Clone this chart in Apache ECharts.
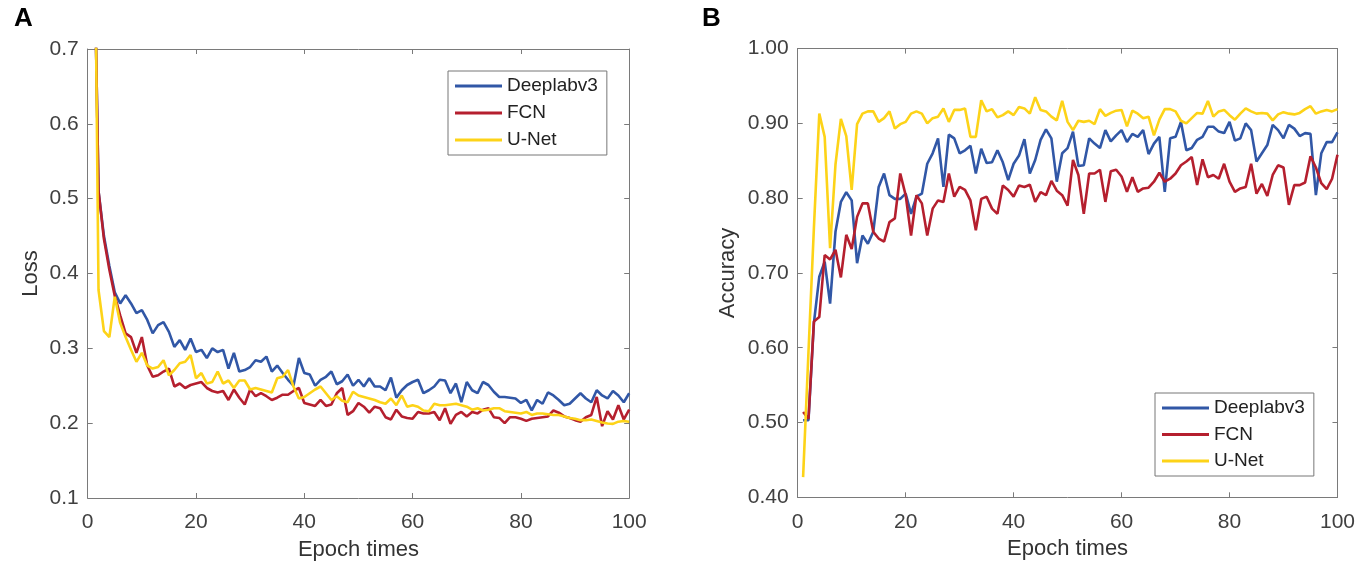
<!DOCTYPE html>
<html>
<head>
<meta charset="utf-8">
<script src="https://cdn.jsdelivr.net/npm/echarts@6/dist/echarts.min.js"></script>
<style>
	html, body { margin: 0; padding: 0; background: #fff; }
	#chart { width: 1358px; height: 566px; }
</style>
</head>
<body>
<div id="chart"></div>
<script>
// epochs 1..100
var epochs = [];
for (var e = 1; e <= 100; e++) epochs.push(e);

var seriesNames = ['Deeplabv3', 'FCN', 'U-Net'];
var seriesColors = ['#3157a6', '#b51f2e', '#fdd318'];

// panel A: loss
var lossDeeplab = [
	0.93, 0.51, 0.45, 0.41, 0.375, 0.36, 0.371, 0.36, 0.347, 0.351,
	0.338, 0.32, 0.331, 0.335, 0.322, 0.302, 0.311, 0.298, 0.313, 0.295,
	0.298, 0.287, 0.30, 0.295, 0.298, 0.273, 0.294, 0.269, 0.271, 0.275,
	0.284, 0.282, 0.289, 0.269, 0.277, 0.267, 0.258, 0.25, 0.287, 0.267,
	0.265, 0.25, 0.258, 0.262, 0.269, 0.252, 0.256, 0.265, 0.25, 0.258,
	0.249, 0.260, 0.249, 0.249, 0.244, 0.261, 0.234, 0.244, 0.251, 0.255,
	0.258, 0.240, 0.244, 0.249, 0.258, 0.257, 0.240, 0.253, 0.228, 0.255,
	0.244, 0.240, 0.255, 0.251, 0.242, 0.235, 0.235, 0.234, 0.233, 0.227,
	0.231, 0.217, 0.231, 0.226, 0.241, 0.237, 0.231, 0.224, 0.226, 0.233,
	0.240, 0.233, 0.228, 0.244, 0.237, 0.233, 0.243, 0.237, 0.228, 0.240
];
var lossFCN = [
	0.93, 0.51, 0.446, 0.405, 0.37, 0.344, 0.32, 0.315, 0.294, 0.315,
	0.277, 0.262, 0.264, 0.269, 0.273, 0.249, 0.253, 0.247, 0.251, 0.253,
	0.255, 0.247, 0.243, 0.241, 0.243, 0.231, 0.245, 0.234, 0.225, 0.245,
	0.236, 0.24, 0.236, 0.231, 0.234, 0.238, 0.238, 0.243, 0.247, 0.227,
	0.225, 0.223, 0.231, 0.223, 0.225, 0.24, 0.247, 0.211, 0.216, 0.227,
	0.222, 0.214, 0.222, 0.220, 0.208, 0.205, 0.218, 0.209, 0.207, 0.206,
	0.215, 0.213, 0.213, 0.215, 0.204, 0.220, 0.199, 0.211, 0.215, 0.209,
	0.215, 0.213, 0.218, 0.220, 0.208, 0.207, 0.200, 0.208, 0.208, 0.206,
	0.203, 0.206, 0.207, 0.208, 0.209, 0.217, 0.214, 0.209, 0.207, 0.204,
	0.202, 0.208, 0.211, 0.235, 0.196, 0.216, 0.205, 0.224, 0.205, 0.218
];
var lossUNet = [
	1.1, 0.378, 0.323, 0.315, 0.369, 0.334, 0.315, 0.298, 0.282, 0.294,
	0.277, 0.273, 0.275, 0.284, 0.264, 0.271, 0.28, 0.282, 0.291, 0.26,
	0.267, 0.253, 0.255, 0.269, 0.253, 0.257, 0.247, 0.257, 0.257, 0.245,
	0.247, 0.245, 0.243, 0.241, 0.26, 0.262, 0.271, 0.249, 0.233, 0.235,
	0.24, 0.245, 0.249, 0.24, 0.231, 0.236, 0.23, 0.228, 0.242, 0.237,
	0.235, 0.233, 0.231, 0.228, 0.226, 0.233, 0.224, 0.237, 0.222, 0.224,
	0.222, 0.217, 0.216, 0.226, 0.224, 0.224, 0.225, 0.226, 0.224, 0.222,
	0.218, 0.220, 0.217, 0.218, 0.220, 0.220, 0.216, 0.215, 0.214, 0.213,
	0.215, 0.211, 0.213, 0.213, 0.212, 0.211, 0.211, 0.209, 0.207, 0.206,
	0.204, 0.204, 0.205, 0.203, 0.201, 0.1995, 0.199, 0.202, 0.203, 0.202
];

// panel B: accuracy
var accDeeplab = [
	0.503, 0.503, 0.633, 0.695, 0.715, 0.659, 0.755, 0.795, 0.808, 0.797,
	0.713, 0.75, 0.739, 0.755, 0.815, 0.833, 0.804, 0.799, 0.799, 0.806,
	0.779, 0.802, 0.806, 0.846, 0.86, 0.88, 0.815, 0.885, 0.88, 0.86,
	0.864, 0.87, 0.833, 0.866, 0.847, 0.848, 0.864, 0.848, 0.824, 0.846,
	0.857, 0.879, 0.833, 0.851, 0.878, 0.892, 0.88, 0.822, 0.86, 0.867,
	0.889, 0.843, 0.844, 0.880, 0.873, 0.867, 0.891, 0.876, 0.884, 0.891,
	0.875, 0.886, 0.882, 0.891, 0.859, 0.873, 0.882, 0.8085, 0.880, 0.882,
	0.902, 0.864, 0.867, 0.878, 0.882, 0.8955, 0.8955, 0.889, 0.887, 0.902,
	0.877, 0.880, 0.900, 0.891, 0.849, 0.860, 0.871, 0.898, 0.891, 0.880,
	0.898, 0.893, 0.883, 0.887, 0.886, 0.804, 0.860, 0.875, 0.875, 0.888
];
var accFCN = [
	0.514, 0.505, 0.635, 0.641, 0.724, 0.718, 0.731, 0.694, 0.751, 0.732,
	0.775, 0.793, 0.793, 0.755, 0.746, 0.742, 0.768, 0.773, 0.833, 0.804,
	0.75, 0.804, 0.793, 0.75, 0.786, 0.797, 0.795, 0.833, 0.802, 0.815,
	0.811, 0.797, 0.757, 0.799, 0.802, 0.786, 0.779, 0.817, 0.811, 0.802,
	0.817, 0.815, 0.818, 0.795, 0.808, 0.804, 0.823, 0.81, 0.804, 0.79,
	0.851, 0.831, 0.779, 0.833, 0.833, 0.838, 0.795, 0.836, 0.838, 0.829,
	0.8085, 0.828, 0.8085, 0.813, 0.814, 0.822, 0.834, 0.822, 0.826, 0.833,
	0.844, 0.849, 0.855, 0.8175, 0.852, 0.828, 0.831, 0.826, 0.846, 0.822,
	0.8085, 0.813, 0.815, 0.846, 0.806, 0.819, 0.803, 0.831, 0.844, 0.841,
	0.791, 0.8175, 0.8175, 0.821, 0.856, 0.841, 0.820, 0.812, 0.826, 0.858
];
var accUNet = [
	0.427, 0.595, 0.76, 0.913, 0.882, 0.733, 0.845, 0.906, 0.883, 0.811,
	0.899, 0.913, 0.916, 0.916, 0.902, 0.907, 0.916, 0.893, 0.899, 0.902,
	0.913, 0.916, 0.913, 0.9, 0.907, 0.909, 0.92, 0.902, 0.918, 0.918,
	0.92, 0.882, 0.882, 0.931, 0.916, 0.919, 0.908, 0.911, 0.916, 0.911,
	0.922, 0.92, 0.913, 0.935, 0.918, 0.916, 0.909, 0.904, 0.93, 0.902,
	0.891, 0.9035, 0.902, 0.9035, 0.899, 0.919, 0.91, 0.914, 0.917, 0.918,
	0.896, 0.917, 0.913, 0.907, 0.909, 0.884, 0.905, 0.919, 0.919, 0.916,
	0.9035, 0.900, 0.907, 0.914, 0.913, 0.930, 0.909, 0.916, 0.918, 0.911,
	0.905, 0.913, 0.920, 0.916, 0.913, 0.914, 0.913, 0.904, 0.912, 0.915,
	0.913, 0.912, 0.914, 0.919, 0.923, 0.913, 0.916, 0.918, 0.916, 0.919
];

var FONT = '"Liberation Sans", Arial, Helvetica, sans-serif';
var AXIS_COLOR = '#7a7a7a';

function pairs(values) {
	var out = [];
	for (var i = 0; i < values.length; i++) out.push([epochs[i], values[i]]);
	return out;
}

function xAxes(gridIndex) {
	var base = {
		gridIndex: gridIndex,
		type: 'value',
		min: 0,
		max: 100,
		interval: 20,
		splitLine: { show: false },
		axisLine: { show: true, onZero: false, lineStyle: { color: AXIS_COLOR, width: 1 } },
		axisTick: { show: true, inside: true, length: 5, lineStyle: { color: AXIS_COLOR } }
	};
	var bottom = Object.assign({}, base, {
		position: 'bottom',
		name: 'Epoch times',
		nameLocation: 'middle',
		nameGap: 41,
		nameTextStyle: { fontSize: 22, color: '#333', fontFamily: FONT },
		axisLabel: { fontSize: 21, color: '#404040', margin: 14, fontFamily: FONT }
	});
	var top = Object.assign({}, base, {
		position: 'top',
		axisLabel: { show: false }
	});
	return [bottom, top];
}

function yAxes(gridIndex, min, max, name, nameGap, digits) {
	var base = {
		gridIndex: gridIndex,
		type: 'value',
		min: min,
		max: max,
		interval: 0.1,
		splitLine: { show: false },
		axisLine: { show: true, onZero: false, lineStyle: { color: AXIS_COLOR, width: 1 } },
		axisTick: { show: true, inside: true, length: 5, lineStyle: { color: AXIS_COLOR } }
	};
	var left = Object.assign({}, base, {
		position: 'left',
		name: name,
		nameLocation: 'middle',
		nameGap: nameGap,
		nameTextStyle: { fontSize: 22, color: '#333', fontFamily: FONT },
		axisLabel: {
			fontSize: 21, color: '#404040', margin: 9, fontFamily: FONT,
			formatter: function (v) { return v.toFixed(digits); }
		}
	});
	var right = Object.assign({}, base, {
		position: 'right',
		axisLabel: { show: false }
	});
	return [left, right];
}

function lineSeries(name, color, values, axisIndex) {
	return {
		type: 'line',
		name: name,
		data: pairs(values),
		xAxisIndex: axisIndex,
		yAxisIndex: axisIndex,
		showSymbol: false,
		symbol: 'none',
		clip: true,
		smooth: false,
		lineStyle: { color: color, width: 2.6 },
		itemStyle: { color: color },
		emphasis: { disabled: true },
		animation: false
	};
}

function legendBox(left, top, gap) {
	return {
		orient: 'vertical',
		left: left,
		top: top,
		data: seriesNames,
		icon: 'rect',
		itemWidth: 47,
		itemHeight: 3,
		itemGap: gap,
		selectedMode: false,
		padding: [5, 9, 5, 7],
		borderColor: '#777',
		borderWidth: 1,
		backgroundColor: '#fff',
		textStyle: { fontSize: 19, color: '#222', fontFamily: FONT, lineHeight: 20 }
	};
}

var chart = echarts.init(document.getElementById('chart'), null, { renderer: 'canvas' });

var xa = xAxes(0).concat(xAxes(1));
var ya = yAxes(0, 0.1, 0.7, 'Loss', 46, 1).concat(yAxes(1, 0.4, 1.0, 'Accuracy', 59, 2));

var option = {
	backgroundColor: '#fff',
	animation: false,
	title: [
		{ text: 'A', left: 14, top: 6, padding: 0, textStyle: { fontSize: 26, fontWeight: 'bold', color: '#000', fontFamily: FONT } },
		{ text: 'B', left: 702, top: 6, padding: 0, textStyle: { fontSize: 26, fontWeight: 'bold', color: '#000', fontFamily: FONT } }
	],
	grid: [
		{ left: 87.7, top: 49, width: 541.5, height: 449 },
		{ left: 797.7, top: 48.6, width: 541.5, height: 448.7 }
	],
	legend: [legendBox(448, 71, 7), legendBox(1155, 393, 6.5)],
	xAxis: xa,
	yAxis: ya,
	series: [
		lineSeries(seriesNames[0], seriesColors[0], lossDeeplab, 0),
		lineSeries(seriesNames[1], seriesColors[1], lossFCN, 0),
		lineSeries(seriesNames[2], seriesColors[2], lossUNet, 0),
		lineSeries(seriesNames[0], seriesColors[0], accDeeplab, 2),
		lineSeries(seriesNames[1], seriesColors[1], accFCN, 2),
		lineSeries(seriesNames[2], seriesColors[2], accUNet, 2)
	]
};

chart.setOption(option);
</script>
</body>
</html>
